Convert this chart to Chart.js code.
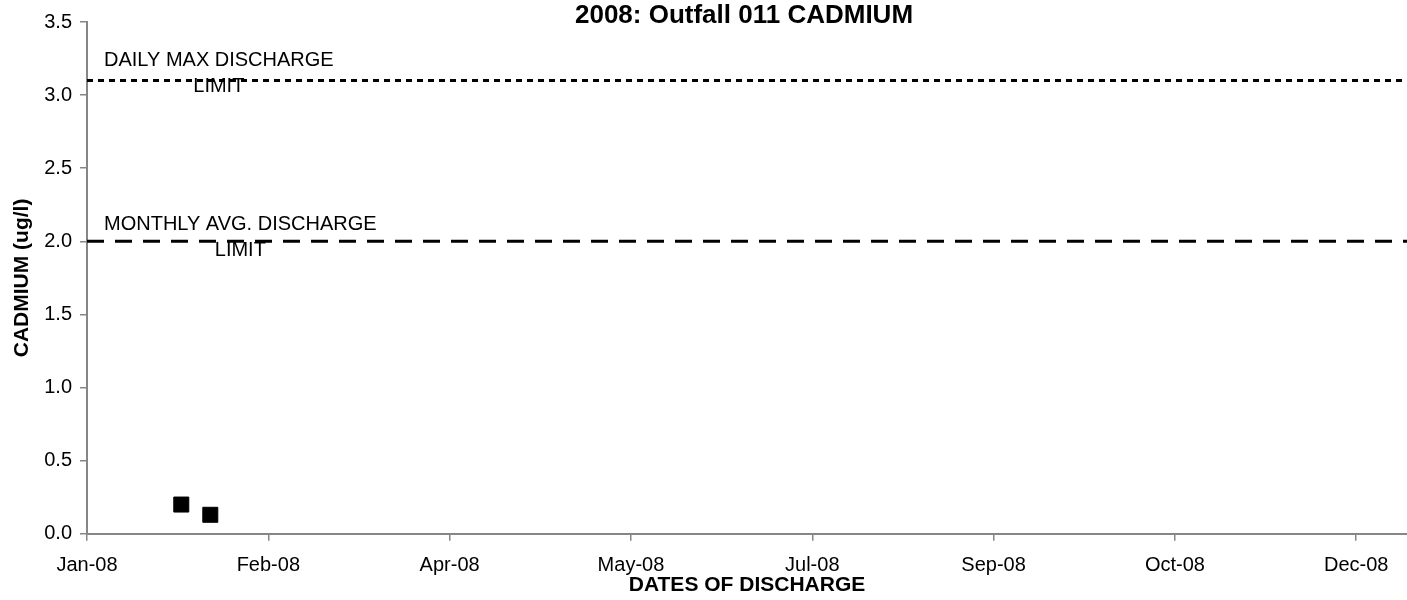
<!DOCTYPE html>
<html>
<head>
<meta charset="utf-8">
<title>2008: Outfall 011 CADMIUM</title>
<script src="https://cdn.jsdelivr.net/npm/chart.js@4/dist/chart.umd.min.js"></script>
<style>
    html, body { margin: 0; padding: 0; background: #fff; overflow: hidden; }
    canvas { display: block; }
</style>
</head>
<body>
<canvas id="cadmiumChart" width="1407" height="600"></canvas>
<script>
'use strict';

// Dates are Excel serial days (39448 = 1 Jan 2008)
const sampleDates = [39474, 39482];
const cadmiumValues = [0.2, 0.13];

const dailyMaxLimit = 3.1;
const monthlyAvgLimit = 2.0;

const xMin = 39448;
const xMax = 39812;
const xTickValues = [39448, 39498, 39548, 39598, 39648, 39698, 39748, 39798];
const xTickLabels = ['Jan-08', 'Feb-08', 'Apr-08', 'May-08', 'Jul-08', 'Sep-08', 'Oct-08', 'Dec-08'];
const yTickValues = [0, 0.5, 1, 1.5, 2, 2.5, 3, 3.5];

const FONT = "'Liberation Sans', Arial, sans-serif";
const AXIS_GRAY = '#868686';

const samplePoints = sampleDates.map((d, i) => ({ x: d, y: cadmiumValues[i] }));

function limitLine(value) {
    return [{ x: xMin, y: value }, { x: xMax, y: value }];
}

// Title and limit labels drawn on top of the plot
const textPlugin = {
    id: 'chartTexts',
    afterDraw(chart) {
        const ctx = chart.ctx;
        const area = chart.chartArea;
        const yScale = chart.scales.y;
        ctx.save();
        ctx.fillStyle = '#000';
        ctx.textBaseline = 'alphabetic';

        ctx.font = 'bold 26px ' + FONT;
        ctx.textAlign = 'center';
        ctx.fillText('2008: Outfall 011 CADMIUM', (area.left + area.right) / 2 - 3, 23);

        ctx.font = '20px ' + FONT;
        const labels = [
            { text: 'DAILY MAX DISCHARGE', value: dailyMaxLimit, up: 14, down: 12 },
            { text: 'MONTHLY AVG. DISCHARGE', value: monthlyAvgLimit, up: 11, down: 15 },
        ];
        labels.forEach((l) => {
            const y = yScale.getPixelForValue(l.value);
            const w = ctx.measureText(l.text).width;
            const cx = area.left + 17 + w / 2;
            ctx.fillText(l.text, cx, y - l.up);
            ctx.fillText('LIMIT', cx, y + l.down);
        });
        ctx.restore();
    },
};

const ctx = document.getElementById('cadmiumChart').getContext('2d');
const chart = new Chart(ctx, {
    type: 'scatter',
    data: {
        datasets: [
            {
                label: 'CADMIUM',
                data: samplePoints,
                showLine: false,
                pointStyle: 'rect',
                pointRadius: 10.6,
                backgroundColor: '#000',
                borderColor: '#000',
                borderWidth: 1,
            },
            {
                label: 'DAILY MAX DISCHARGE LIMIT',
                data: limitLine(dailyMaxLimit),
                showLine: true,
                borderColor: '#000',
                borderWidth: 3,
                borderDash: [6, 5],
                pointRadius: 0,
                fill: false,
            },
            {
                label: 'MONTHLY AVG. DISCHARGE LIMIT',
                data: limitLine(monthlyAvgLimit),
                showLine: true,
                borderColor: '#000',
                borderWidth: 3,
                borderDash: [17, 11],
                pointRadius: 0,
                fill: false,
            },
        ],
    },
    options: {
        responsive: false,
        animation: false,
        layout: {
            // no room reserved for the markers: the plot runs to the right edge
            autoPadding: false,
            padding: { left: 4, right: 0, top: 22, bottom: 0 },
        },
        plugins: {
            legend: { display: false },
            tooltip: { enabled: false },
        },
        scales: {
            x: {
                type: 'linear',
                min: xMin,
                max: xMax,
                afterBuildTicks: function (scale) {
                    scale.ticks = xTickValues.map((v) => ({ value: v }));
                },
                ticks: {
                    autoSkip: false,
                    maxRotation: 0,
                    padding: 13,
                    color: '#000',
                    font: { family: FONT, size: 20 },
                    callback: function (value, index) {
                        return xTickLabels[index];
                    },
                },
                grid: {
                    drawOnChartArea: false,
                    drawTicks: true,
                    tickLength: 7,
                    color: AXIS_GRAY,
                    lineWidth: 1.5,
                },
                border: { display: true, color: AXIS_GRAY, width: 2 },
                title: {
                    display: true,
                    text: 'DATES OF DISCHARGE',
                    color: '#000',
                    font: { family: FONT, size: 21, weight: 'bold' },
                    padding: { top: -18, bottom: 2 },
                },
            },
            y: {
                type: 'linear',
                min: 0,
                max: 3.5,
                afterBuildTicks: function (scale) {
                    scale.ticks = yTickValues.map((v) => ({ value: v }));
                },
                ticks: {
                    padding: 8,
                    color: '#000',
                    font: { family: FONT, size: 20 },
                    callback: function (value) {
                        return Number(value).toFixed(1);
                    },
                },
                grid: {
                    drawOnChartArea: false,
                    drawTicks: true,
                    tickLength: 7,
                    color: AXIS_GRAY,
                    lineWidth: 1.5,
                },
                border: { display: true, color: AXIS_GRAY, width: 2 },
                title: {
                    display: true,
                    text: 'CADMIUM (ug/l)',
                    color: '#000',
                    font: { family: FONT, size: 21, weight: 'bold' },
                    padding: { top: 6, bottom: 1 },
                },
            },
        },
    },
    plugins: [textPlugin],
});
</script>
</body>
</html>
